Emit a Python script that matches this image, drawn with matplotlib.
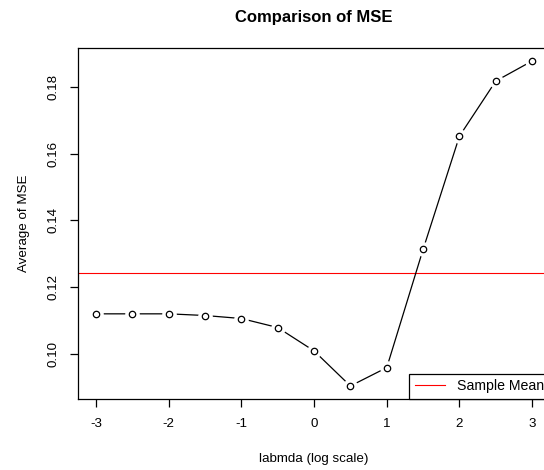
import matplotlib
matplotlib.use("Agg")
import matplotlib.pyplot as plt
import numpy as np

log_lambda = [-3, -2.5, -2, -1.5, -1, -0.5, 0, 0.5, 1, 1.5, 2, 2.5, 3]
avg_mse = [0.1120, 0.1120, 0.1120, 0.1115, 0.1106, 0.1079, 0.1009,
           0.0904, 0.0959, 0.1313, 0.1652, 0.1817, 0.1877]
sample_mean = 0.1242
x_ticks = [-3, -2, -1, 0, 1, 2, 3]
y_ticks = [0.10, 0.12, 0.14, 0.16, 0.18]

plt.rcParams.update({
    "font.family": ["Liberation Sans", "DejaVu Sans"],
    "font.size": 9.6,
})

fig = plt.figure(figsize=(5.44, 4.70), dpi=100)
ax = fig.add_axes([0.1443, 0.1511, 0.866, 0.7468])

# R type="b": line with gaps around the points
ax.plot(log_lambda, avg_mse, color="black", lw=0.9, zorder=2)
ax.plot(log_lambda, avg_mse, ls="none", marker="o", ms=9.5,
        mfc="white", mec="white", zorder=3)
ax.plot(log_lambda, avg_mse, ls="none", marker="o", ms=4.6,
        mfc="white", mec="black", mew=0.9, zorder=4)
ax.axhline(sample_mean, color="red", lw=0.8, label="Sample Mean", zorder=1)

ymin, ymax = min(avg_mse), max(avg_mse)
pad = 0.04 * (ymax - ymin)
ax.set_xlim(-3.24, 3.24)
ax.set_ylim(ymin - pad, ymax + pad)
ax.set_xticks(x_ticks)
ax.set_xticklabels([str(t) for t in x_ticks])
ax.set_yticks(y_ticks)
ax.set_yticklabels([f"{t:.2f}" for t in y_ticks], rotation=90, va="center")
ax.tick_params(direction="out", length=6, width=0.9, pad=8, labelsize=9.6)
for sp in ax.spines.values():
    sp.set_linewidth(0.9)

ax.set_xlabel("labmda (log scale)", labelpad=16)
ax.set_ylabel("Average of MSE", labelpad=12)
ax.set_title("Comparison of MSE", fontsize=12, fontweight="bold", pad=19)

leg = ax.legend(loc="lower right", borderaxespad=0, fancybox=False,
                edgecolor="black", framealpha=1, handlelength=2.1,
                handletextpad=0.85, borderpad=0.4, fontsize=10.2)
leg.get_frame().set_linewidth(0.9)

fig.savefig("out.png", dpi=100)
